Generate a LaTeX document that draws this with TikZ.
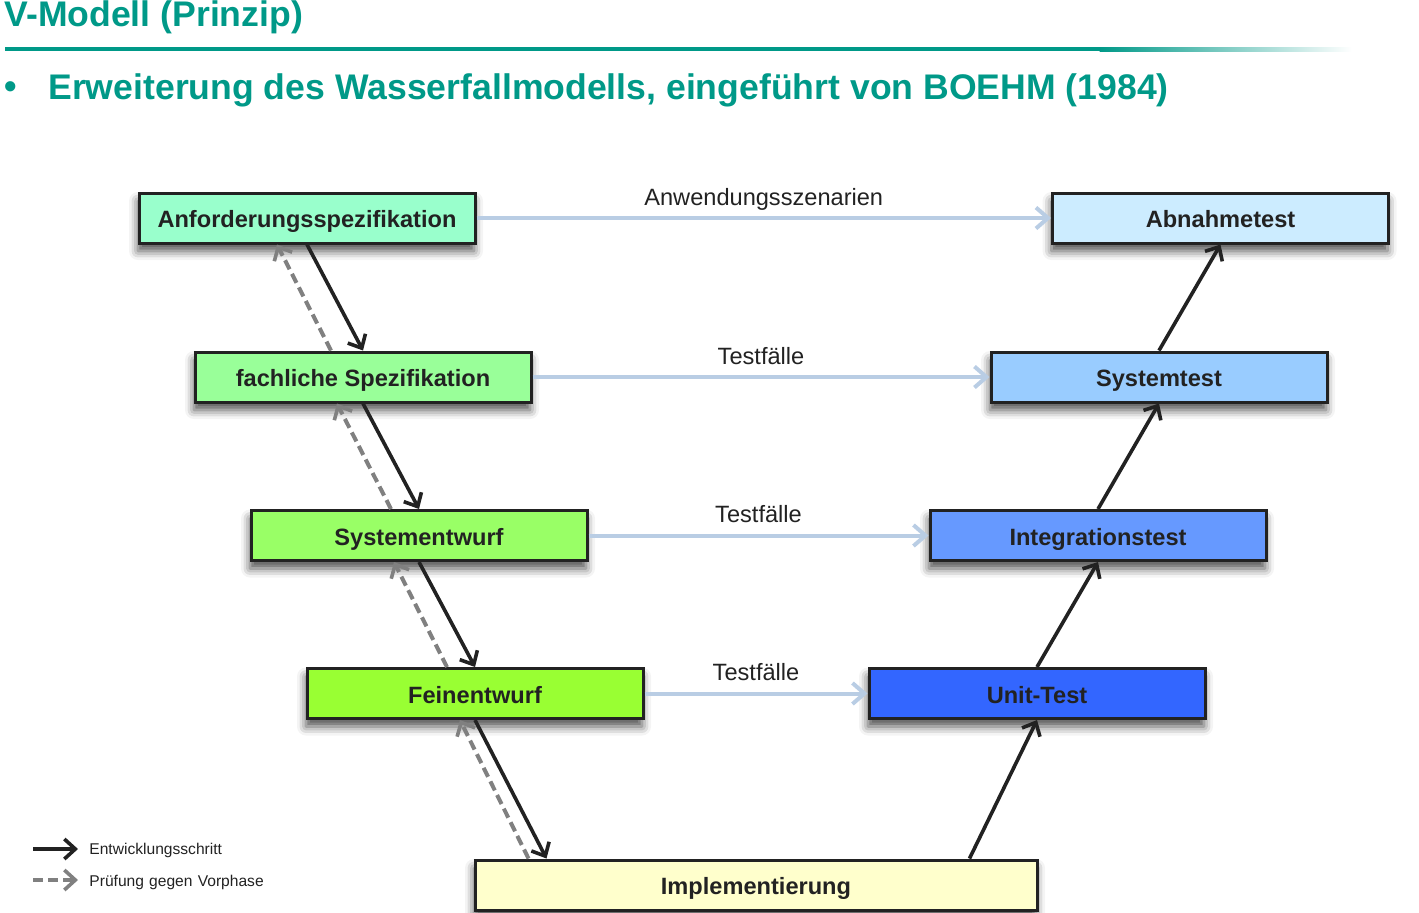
\documentclass[tikz,border=0pt]{standalone}
\usepackage{fontspec}
\setmainfont{Liberation Sans}
\usetikzlibrary{arrows.meta,shadows.blur,calc}
\definecolor{tealtitle}{RGB}{0,153,136}
\definecolor{linkblue}{RGB}{185,205,228}
\definecolor{dashgray}{RGB}{128,128,128}
\definecolor{boxline}{RGB}{34,34,34}
\definecolor{cA}{RGB}{153,255,204}
\definecolor{cF}{RGB}{153,255,153}
\definecolor{cS}{RGB}{153,255,102}
\definecolor{cFe}{RGB}{153,255,51}
\definecolor{cI}{RGB}{255,255,204}
\definecolor{cAb}{RGB}{204,236,255}
\definecolor{cSt}{RGB}{153,204,255}
\definecolor{cIt}{RGB}{102,153,255}
\definecolor{cU}{RGB}{51,102,255}
\begin{document}
\begin{tikzpicture}[x=0.5pt,y=-0.5pt,
  phase/.style={draw=boxline, line width=1.5pt, minimum width=168pt, minimum height=25pt,
    inner sep=0pt, text height=9.7pt, text depth=0pt, text=boxline, font=\fontsize{11.8pt}{14pt}\selectfont\bfseries,
    blur shadow={shadow xshift=-0.5pt, shadow yshift=-4pt, shadow blur radius=4.5pt, shadow opacity=70}},
  devstep/.style={draw=boxline, line width=1.8pt, -{Straight Barb[length=5.5pt,width=10pt,line width=1.8pt]}},
  checkstep/.style={draw=dashgray, line width=2pt, dash pattern=on 5pt off 2.6pt, -{Straight Barb[length=5.5pt,width=10pt,line width=1.8pt]}},
  testlink/.style={draw=linkblue, line width=2pt, -{Straight Barb[length=6pt,width=10.5pt,line width=2pt]}},
  linklabel/.style={font=\fontsize{11.8pt}{14pt}\selectfont, text=boxline, inner sep=0pt, text depth=0pt, above=5.5pt},
  legendtext/.style={font=\fontsize{7.8pt}{9pt}\selectfont, text=boxline, anchor=west, inner sep=0pt},
  titletext/.style={font=\fontsize{17.8pt}{21pt}\selectfont\bfseries, text=tealtitle, anchor=west, inner sep=0pt}
]
\useasboundingbox (0,0) rectangle (1419,912);
% title
\node[titletext] (title) at (4,17) {V-Modell (Prinzip)};
\fill[tealtitle] (5,47) rectangle (1100,51);
\shade[left color=tealtitle, right color=white] (1099.5,47) rectangle (1352,51);
\node[titletext] (bullet) at (4,90) {•};
\node[titletext] (subtitle) at (48,90) {Erweiterung des Wasserfallmodells, eingeführt von BOEHM (1984)};
% left branch
\node[phase, fill=cA] (A) at (307,218) {Anforderungsspezifikation};
\node[phase, fill=cF] (F) at (363,377) {fachliche Spezifikation};
\node[phase, fill=cS] (S) at (419,535.5) {Systementwurf};
\node[phase, fill=cFe] (Fe) at (475,693.5) {Feinentwurf};
\node[phase, fill=cI, minimum width=281pt] (I) at (756,885) {Implementierung};
% right branch
\node[phase, fill=cAb] (Ab) at (1220.5,218) {Abnahmetest};
\node[phase, fill=cSt] (St) at (1159,377) {Systemtest};
\node[phase, fill=cIt] (It) at (1098,535.5) {Integrationstest};
\node[phase, fill=cU] (U) at (1037,693.5) {Unit-Test};
% development steps
\draw[devstep] (A.south) -- (F.north);
\draw[devstep] (F.south) -- (S.north);
\draw[devstep] (S.south) -- (Fe.north);
\draw[devstep] (Fe.south) -- ([xshift=36.5pt]I.north west);
\draw[devstep] ([xshift=-34.5pt]I.north east) -- (U.south);
\draw[devstep] (U.north) -- (It.south);
\draw[devstep] (It.north) -- (St.south);
\draw[devstep] (St.north) -- (Ab.south);
% checks
\draw[checkstep] ([xshift=-16pt]F.north) -- ([xshift=-15pt]A.south);
\draw[checkstep] ([xshift=-14pt]S.north) -- ([xshift=-13pt]F.south);
\draw[checkstep] ([xshift=-14pt]Fe.north) -- ([xshift=-12.5pt]S.south);
\draw[checkstep] ([xshift=27.5pt]I.north west) -- ([xshift=-7.5pt]Fe.south);
% test links
\draw[testlink] (A.east) -- node[linklabel] {Anwendungsszenarien} (Ab.west);
\draw[testlink] (F.east) -- node[linklabel] {Testfälle} (St.west);
\draw[testlink] (S.east) -- node[linklabel] {Testfälle} (It.west);
\draw[testlink] (Fe.east) -- node[linklabel] {Testfälle} (U.west);
% legend
\coordinate (l1a) at (33,849);
\coordinate (l1b) at (78,849);
\coordinate (l2a) at (33,880);
\coordinate (l2b) at (78,880);
\draw[devstep] (l1a) -- (l1b);
\draw[checkstep] (l2a) -- (l2b);
\node[legendtext] (lt1) at (89,850) {Entwicklungsschritt};
\node[legendtext] (lt2) at (89,882) {Prüfung\hspace{2.6pt}gegen\hspace{2.6pt}Vorphase};
\end{tikzpicture}
\end{document}
